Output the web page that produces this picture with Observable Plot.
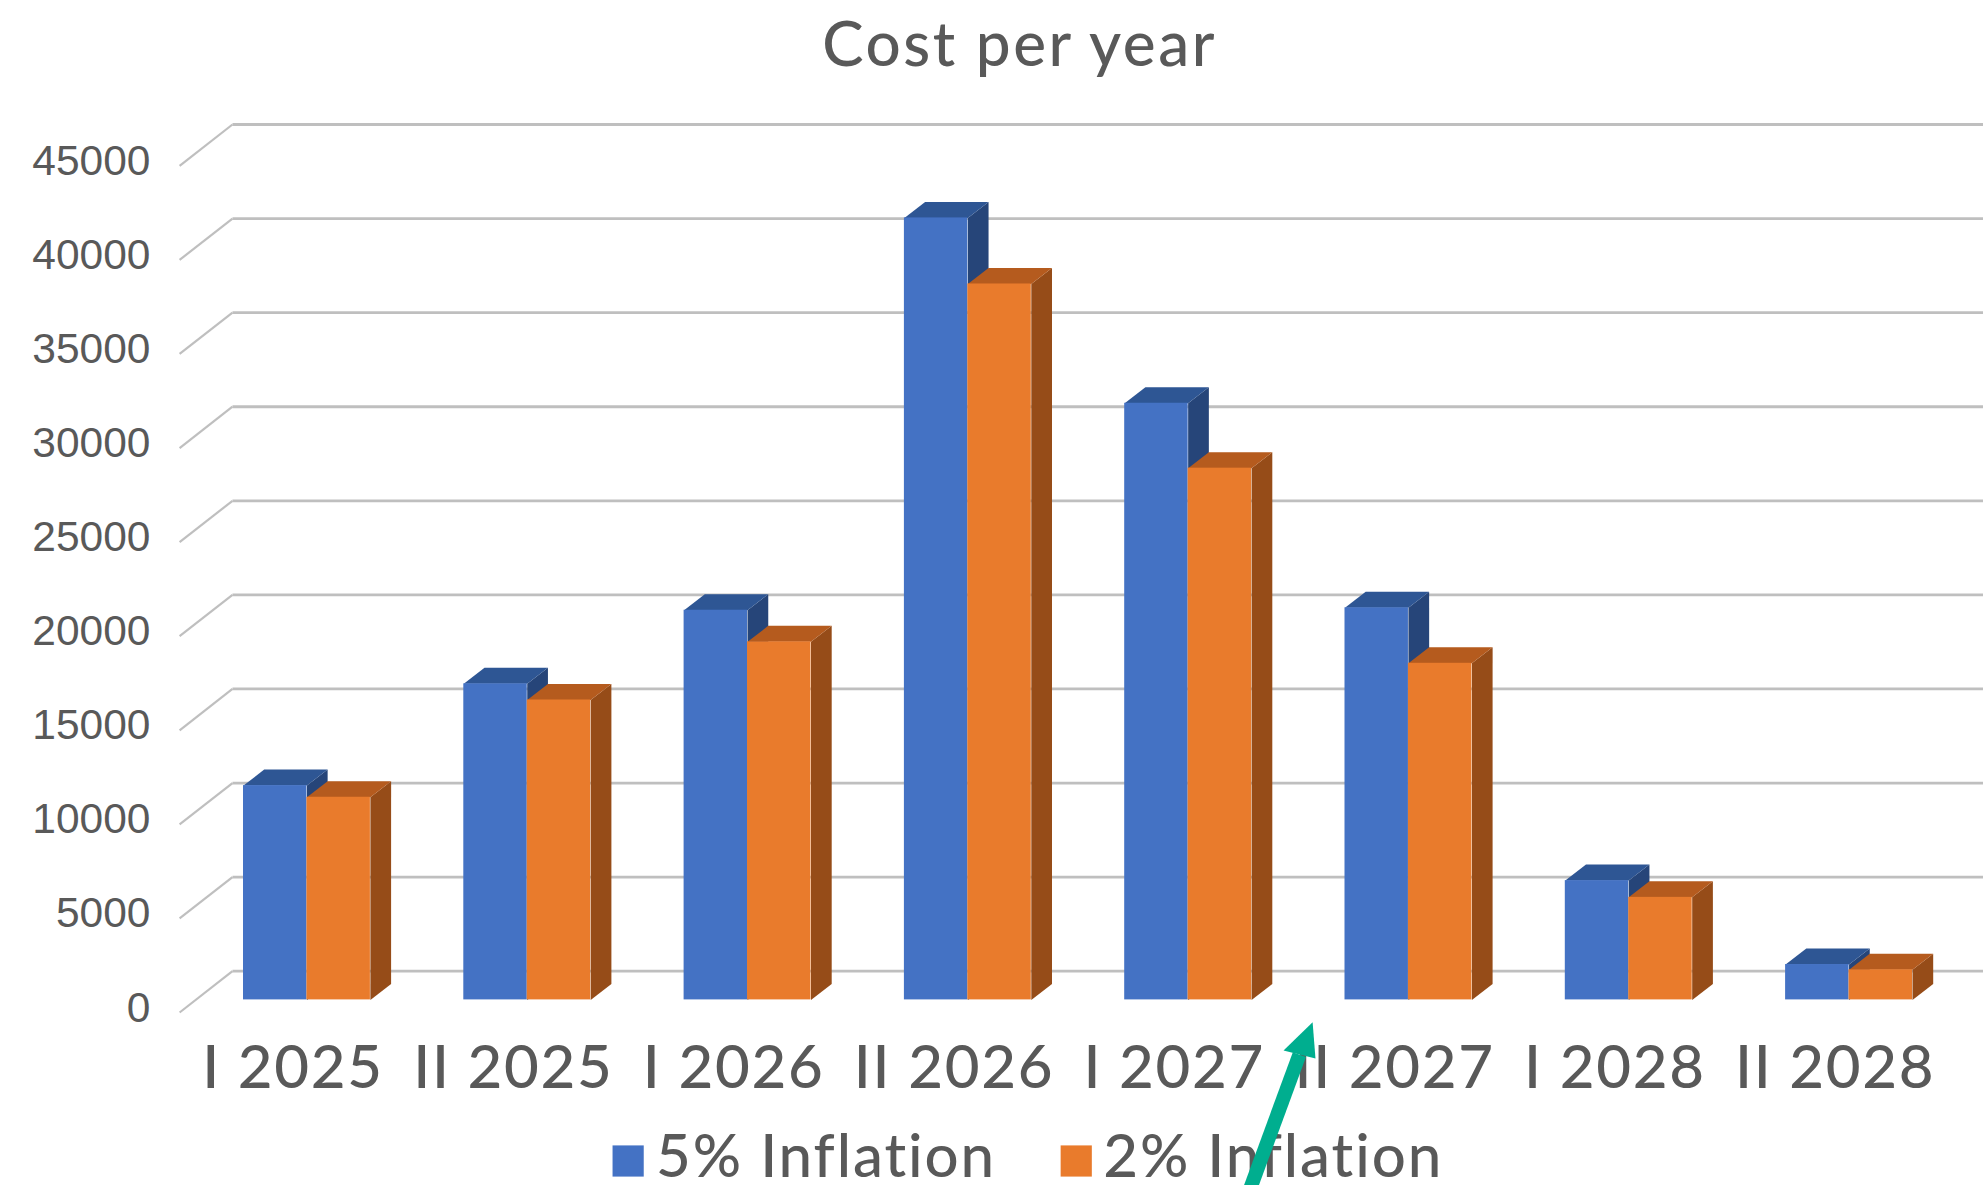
<!DOCTYPE html>
<html>
<head>
<meta charset="utf-8">
<title>Cost per year</title>
<script src="https://cdn.jsdelivr.net/npm/d3@7"></script>
<script src="https://cdn.jsdelivr.net/npm/@observablehq/plot@0.6"></script>
<style>
  html, body { margin: 0; padding: 0; background: #fff; }
  svg { display: block; }
  svg text { font-variant-ligatures: none; }
  g[aria-label="x-axis tick label"] { letter-spacing: 1.7px; }
</style>
</head>
<body>
<div id="chart"></div>
<script>
// Half-year periods and the projected cost under each inflation rate
const periods = ["I 2025", "II 2025", "I 2026", "II 2026", "I 2027", "II 2027", "I 2028", "II 2028"];
const inflation5 = [11390, 16800, 20710, 41560, 31710, 20840, 6340, 1880];
const inflation2 = [10770, 15940, 19030, 38050, 28260, 17890, 5450, 1600];
const yTicks = [0, 5000, 10000, 15000, 20000, 25000, 30000, 35000, 40000, 45000];

const seriesNames = ["5% Inflation", "2% Inflation"];
const frontColors = ["#4472C4", "#E97B2C"];
const topColors = ["#2E5694", "#B55B1E"];
const sideColors = ["#264579", "#964C18"];
const titleText = "Cost per year";

// Extrusion and layout offsets, in data units (x: one period, y: cost)
const barWidth = 0.288;
const depthX = 0.094;
const depthY = 850;
const wallX = -0.05;
const wallY = 1525;
const floorFrontX = -0.29;
const floorFrontY = -670;
const gridEndX = 7.92;
const labelOffset = 0.225;

const bars = seriesNames.flatMap((name, s) =>
  (s === 0 ? inflation5 : inflation2).map((value, i) => ({
    name, s, value, x1: i + s * barWidth, x2: i + (s + 1) * barWidth
  }))
);

// Parallelogram faces of each extruded bar
const sideFace = (b) => [
  [b.x2, 0], [b.x2 + depthX, depthY], [b.x2 + depthX, b.value + depthY], [b.x2, b.value]
];
const topFace = (b) => [
  [b.x1, b.value], [b.x1 + depthX, b.value + depthY], [b.x2 + depthX, b.value + depthY], [b.x2, b.value]
];
const facePoints = (faceOf) => (b, id) => faceOf(b).map(([x, y]) => ({ x, y, id }));

const faceMarks = (s) => {
  const own = bars.filter((b) => b.s === s);
  return [
    Plot.line(own.flatMap(facePoints(sideFace)), { x: "x", y: "y", z: "id", fill: sideColors[s], stroke: "none" }),
    Plot.line(own.flatMap(facePoints(topFace)), { x: "x", y: "y", z: "id", fill: topColors[s], stroke: "none" }),
    Plot.rectY(own, { x1: "x1", x2: "x2", y1: 0, y2: "value", fill: frontColors[s] })
  ];
};

// Legend entries, placed below the period labels
const legendSwatchY = -8562;
const legendTextY = -8370;
const legend = [
  { name: seriesNames[0], x: 1.746, tx: 1.873, color: frontColors[0] },
  { name: seriesNames[1], x: 3.78, tx: 3.903, color: frontColors[1] }
];

// Annotation arrow running up from the bottom edge
const arrowShaft = [{ x1: 4.55, y1: -10661, x2: 4.793, y2: -2904 }];
const arrowHead = [
  { x: 4.853, y: -1185 },
  { x: 4.721, y: -2689 },
  { x: 4.866, y: -3114 }
];

const labelColor = "#595959";
const geometric = "Lato, sans-serif";

const chart = Plot.plot({
  width: 1983,
  height: 1185,
  marginLeft: 160,
  marginRight: 0,
  marginTop: 0,
  marginBottom: 160,
  style: { background: "#fff", overflow: "hidden" },
  x: { type: "linear", domain: [0, 8], range: [243, 243 + 8 * 220.3] },
  y: { type: "linear", domain: [0, 45000], range: [999.4, 152.7] },
  marks: [
    // Back wall gridlines and their slanted return along the floor
    Plot.link(yTicks, { x1: wallX, x2: gridEndX, y1: (d) => d + wallY, y2: (d) => d + wallY, stroke: "#BFBFBF", strokeWidth: 2.8 }),
    Plot.link(yTicks, { x1: floorFrontX, x2: wallX, y1: (d) => d + floorFrontY, y2: (d) => d + wallY, stroke: "#BFBFBF", strokeWidth: 2.2 }),

    ...faceMarks(0),
    ...faceMarks(1),

    Plot.axisY({
      ticks: yTicks, tickSize: 0, tickPadding: 10, label: null, tickFormat: (d) => String(d),
      fontFamily: "'Liberation Sans', Arial, sans-serif", fontSize: 42.5, fill: labelColor, dy: 8
    }),
    Plot.axisX({
      ticks: periods.map((_, i) => i + labelOffset), tickSize: 0, tickPadding: 20, label: null,
      tickFormat: (d) => periods[Math.round(d - labelOffset)],
      fontFamily: geometric, fontSize: 60, fontWeight: 500, fill: labelColor
    }),

    // Chart title
    Plot.text([titleText], {
      x: 3.523, y: 50670,
      fontFamily: geometric, fontSize: 62, fontWeight: 500, fill: labelColor
    }),

    // Legend
    Plot.dot(legend, { x: "x", y: legendSwatchY, symbol: "square", r: 17.6, fill: "color", stroke: "none" }),
    Plot.text(legend, {
      x: "tx", y: legendTextY, text: "name", textAnchor: "start",
      fontFamily: geometric, fontSize: 60, fontWeight: 500, fill: labelColor
    }),

    // Annotation arrow
    Plot.link(arrowShaft, { x1: "x1", y1: "y1", x2: "x2", y2: "y2", stroke: "#00AE8F", strokeWidth: 14 }),
    Plot.line(arrowHead, { x: "x", y: "y", fill: "#00AE8F", stroke: "none" })
  ]
});

// Open up the tracking of the title and legend labels
d3.select(chart).selectAll("text")
  .filter(function () { return this.textContent === titleText; })
  .style("letter-spacing", "2.5px");
d3.select(chart).selectAll("text")
  .filter(function () { return seriesNames.includes(this.textContent); })
  .style("letter-spacing", "1.9px");

document.getElementById("chart").append(chart);
</script>
</body>
</html>
